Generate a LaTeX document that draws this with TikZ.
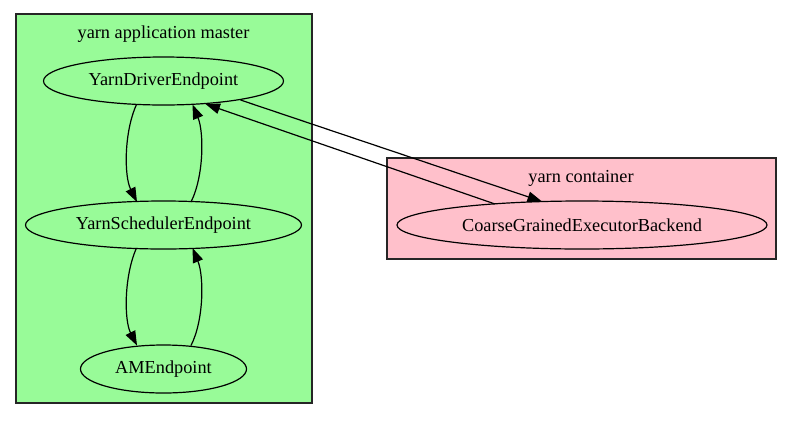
\documentclass[tikz,border=0pt]{standalone}
\usepackage{fontspec}
\setmainfont{Liberation Serif}
\usetikzlibrary{shapes.geometric,arrows.meta}
\definecolor{amgreen}{HTML}{98FB98}
\definecolor{ctpink}{HTML}{FFC0CB}
\tikzset{
  ep/.style={ellipse,draw=black,line width=1.2pt,inner sep=0pt,minimum height=48pt,font=\fontsize{18.3}{22}\selectfont},
  cluster/.style={draw=black!85,line width=1.2pt},
  clabel/.style={font=\fontsize{18.3}{22}\selectfont,inner sep=0pt},
  edge/.style={draw=black,line width=1.2pt,-{Triangle[length=14.5pt,width=10.5pt]}}
}
\begin{document}
\begin{tikzpicture}[x=1pt,y=-1pt]
\useasboundingbox[fill=white] (0,0) rectangle (792,421);
\filldraw[cluster,fill=amgreen] (16,14) rectangle (312,403);
\filldraw[cluster,fill=ctpink] (387,158) rectangle (776,259);
\node[clabel] (lam) at (163.5,34) {yarn application master};
\node[clabel] (lct) at (581,178) {yarn container};
\node[ep,minimum width=240pt] (drv) at (163.5,81) {YarnDriverEndpoint};
\node[ep,minimum width=276pt] (sch) at (163.5,225) {YarnSchedulerEndpoint};
\node[ep,minimum width=166pt] (am) at (163.5,369) {AMEndpoint};
\node[ep,minimum width=370pt] (ce) at (582,225) {CoarseGrainedExecutorBackend};
% driver <-> scheduler
\draw[edge] ([xshift=-27pt,yshift=-23.5pt]drv.center) .. controls (124,132) and (124,176) .. ([xshift=-26.5pt,yshift=23pt]sch.center);
\draw[edge] ([xshift=27.5pt,yshift=23pt]sch.center) .. controls (204,176) and (204,132) .. ([xshift=29pt,yshift=-23.5pt]drv.center);
% scheduler <-> AM
\draw[edge] ([xshift=-27pt,yshift=-23pt]sch.center) .. controls (124,276) and (124,320) .. ([xshift=-26.5pt,yshift=23.5pt]am.center);
\draw[edge] ([xshift=27.5pt,yshift=23.5pt]am.center) .. controls (204,320) and (204,276) .. ([xshift=29pt,yshift=-23pt]sch.center);
% driver <-> executor
\draw[edge] ([xshift=77pt,yshift=-19pt]drv.center) -- ([xshift=-40pt,yshift=23.5pt]ce.center);
\draw[edge] ([xshift=-87pt,yshift=21pt]ce.center) -- ([xshift=42pt,yshift=-23pt]drv.center);
\end{tikzpicture}
\end{document}
